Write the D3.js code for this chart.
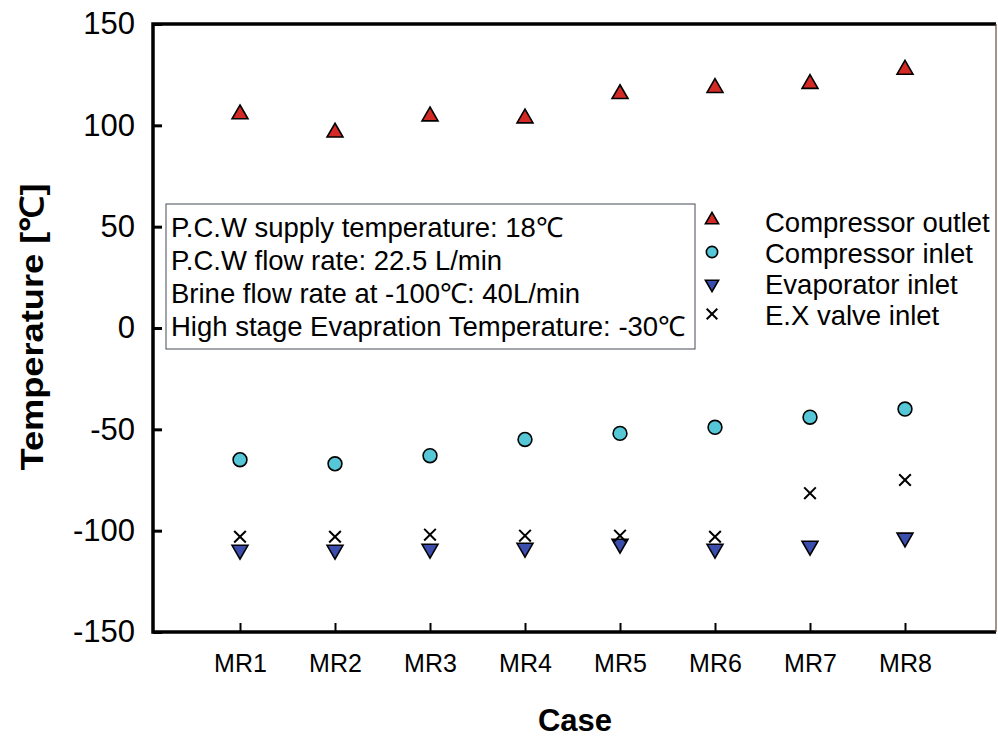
<!DOCTYPE html>
<html>
<head>
<meta charset="utf-8">
<script src="https://cdn.jsdelivr.net/npm/d3@7"></script>
<style>
  body { margin: 0; background: #fff; }
  svg { font-family: "Liberation Sans", Arial, sans-serif; }
</style>
</head>
<body>
<svg id="chart" width="998" height="739"></svg>
<script>
// categories
const cases = ['MR1', 'MR2', 'MR3', 'MR4', 'MR5', 'MR6', 'MR7', 'MR8']
// series values, deg C
const compOutlet = [105, 96, 104, 103, 115, 118, 120, 127]
const compInlet = [-65, -67, -63, -55, -52, -49, -44, -40]
const evapInlet = [-109, -109, -108.5, -108, -106, -108.5, -107, -103]
const exValveInlet = [-103, -103, -102, -102.5, -102.5, -103, -81.5, -75]
const yTicks = [-150, -100, -50, 0, 50, 100, 150]
const noteLines = [
  'P.C.W supply temperature: 18\u2103',
  'P.C.W flow rate: 22.5 L/min',
  'Brine flow rate at -100\u2103: 40L/min',
  'High stage Evapration Temperature: -30\u2103'
]

const plotLeft = 153
const plotRight = 996
const plotTop = 24
const plotBottom = 632

const svg = d3.select('#chart')

const x = d3.scalePoint().domain(cases).range([240, 905])
const y = d3.scaleLinear().domain([-150, 150]).range([plotBottom, plotTop])

// series styles
const series = [
  { name: 'Compressor outlet', values: compOutlet, type: d3.symbolTriangle, size: 110, fill: '#d42a26', rot: 0, dy: -1 },
  { name: 'Compressor inlet', values: compInlet, type: d3.symbolCircle, size: 150, fill: '#55c7d6', rot: 0, dy: 0 },
  { name: 'Evaporator inlet', values: evapInlet, type: d3.symbolTriangle, size: 110, fill: '#3c4ead', rot: 180, dy: 1 },
  { name: 'E.X valve inlet', values: exValveInlet, type: d3.symbolTimes, size: 90, fill: 'none', rot: 0, dy: 0 }
]

// axes
const yAxis = svg.append('g')
  .attr('transform', 'translate(' + plotLeft + ',0)')
  .call(d3.axisLeft(y).tickValues(yTicks).tickSize(-9).tickPadding(18).tickFormat(function (d) { return String(d) }))
yAxis.select('.domain').remove()
yAxis.selectAll('line').attr('stroke', '#000').attr('stroke-width', 3)
yAxis.selectAll('text').attr('font-size', 31).attr('fill', '#000')

const xAxis = svg.append('g')
  .attr('transform', 'translate(0,' + plotBottom + ')')
  .call(d3.axisBottom(x).tickSize(-9).tickPadding(22))
xAxis.select('.domain').remove()
xAxis.selectAll('line').attr('stroke', '#000').attr('stroke-width', 2)
xAxis.selectAll('text').attr('font-size', 25).attr('fill', '#000')

// frame: thick left/top/bottom, thin right
svg.append('path')
  .attr('d', 'M' + plotRight + ',' + plotTop + 'H' + plotLeft + 'V' + plotBottom + 'H' + plotRight)
  .attr('fill', 'none')
  .attr('stroke', '#000')
  .attr('stroke-width', 3.5)
svg.append('line')
  .attr('x1', plotRight).attr('x2', plotRight)
  .attr('y1', plotTop).attr('y2', plotBottom)
  .attr('stroke', '#6b4a3a')
  .attr('stroke-width', 1.2)

// axis titles
svg.append('text')
  .attr('transform', 'translate(43,327) rotate(-90)')
  .attr('text-anchor', 'middle')
  .attr('font-size', 32)
  .attr('font-weight', 'bold')
  .attr('textLength', 287)
  .attr('lengthAdjust', 'spacingAndGlyphs')
  .text('Temperature [\u2103]')

svg.append('text')
  .attr('x', 575)
  .attr('y', 731)
  .attr('text-anchor', 'middle')
  .attr('font-size', 31)
  .attr('font-weight', 'bold')
  .text('Case')

// note box
const note = svg.append('g')
note.append('rect')
  .attr('x', 166).attr('y', 204)
  .attr('width', 529).attr('height', 145)
  .attr('fill', '#fff')
  .attr('stroke', '#444a55')
  .attr('stroke-width', 1)
note.selectAll('text')
  .data(noteLines)
  .enter()
  .append('text')
  .attr('x', 171)
  .attr('y', function (d, i) { return y(50) + 10 + i * 33 })
  .attr('font-size', 27.5)
  .text(function (d) { return d })

// markers
function drawMarkers (g, s) {
  g.attr('fill', s.fill)
    .attr('stroke', '#000')
    .attr('stroke-width', s.fill === 'none' ? 2 : 1.6)
}

series.forEach(function (s) {
  svg.append('g')
    .call(drawMarkers, s)
    .selectAll('path')
    .data(s.values)
    .enter()
    .append('path')
    .attr('d', d3.symbol().type(s.type).size(s.size))
    .attr('transform', function (d, i) {
      return 'translate(' + x(cases[i]) + ',' + (y(d) + s.dy) + ') rotate(' + s.rot + ')'
    })
})

// legend
const legend = svg.append('g')
series.forEach(function (s, i) {
  const ly = 222 + i * 31
  legend.append('path')
    .call(drawMarkers, s)
    .attr('d', d3.symbol().type(s.type).size(s.type === d3.symbolCircle ? 100 : 75)())
    .attr('transform', 'translate(712,' + (ly - 1 + s.dy) + ') rotate(' + s.rot + ')')
  legend.append('text')
    .attr('x', 765)
    .attr('y', ly + 10)
    .attr('font-size', 27.5)
    .text(s.name)
})
</script>
</body>
</html>
